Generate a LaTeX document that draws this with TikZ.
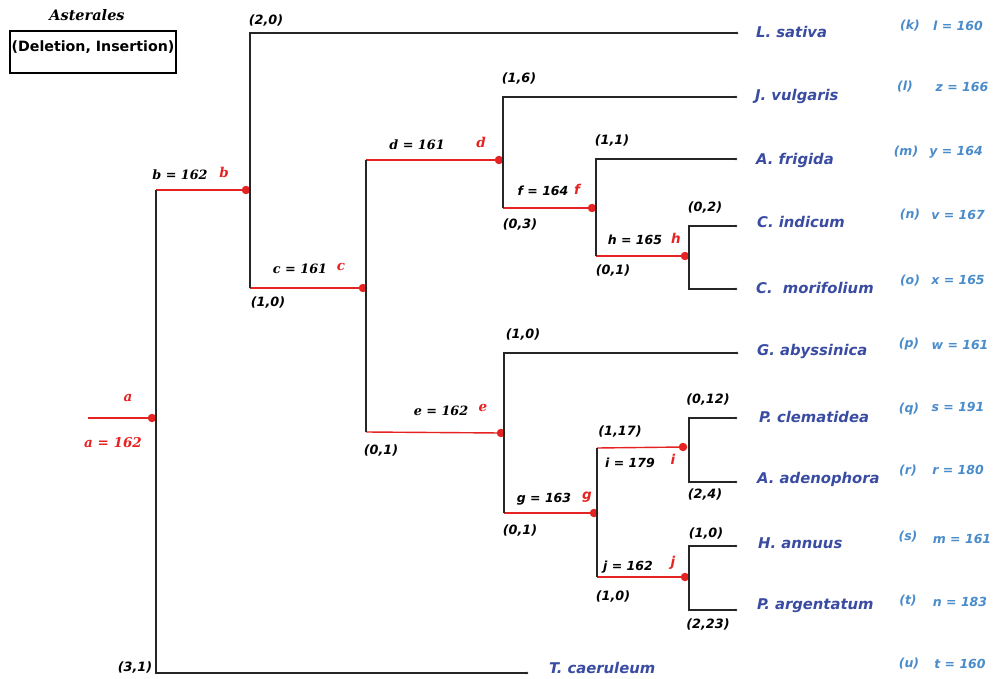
\documentclass[tikz,border=0pt]{standalone}
\usepackage{fontspec}
\setmainfont{DejaVu Sans}
\newfontfamily\lblsans{DejaVu Sans}
\newfontfamily\lblserif{DejaVu Serif}
\definecolor{edgered}{RGB}{230,35,35}
\definecolor{taxblue}{RGB}{58,76,162}
\definecolor{valblue}{RGB}{74,140,202}
\begin{document}
\begin{tikzpicture}[x=1pt,y=-1pt,
  branch/.style={line width=1.4pt,black!85},
  rbranch/.style={line width=1.4pt,edgered},
  joint/.style={circle,fill=edgered,inner sep=0pt,minimum size=8.5pt},
  pair/.style={font=\lblsans\fontsize{12.8}{13}\selectfont\bfseries\itshape,text=black},
  sval/.style={font=\lblserif\fontsize{12.8}{13}\selectfont\bfseries\itshape,text=black},
  fval/.style={font=\lblsans\fontsize{12.5}{13}\selectfont\bfseries\itshape,text=black},
  rtag/.style={font=\lblserif\fontsize{13.5}{14}\selectfont\bfseries\itshape,text=edgered},
  rtags/.style={font=\lblsans\fontsize{13.5}{14}\selectfont\bfseries\itshape,text=edgered},
  taxon/.style={font=\lblsans\fontsize{14.8}{15}\selectfont\bfseries\itshape,text=taxblue},
  leafid/.style={font=\lblsans\fontsize{12.5}{13}\selectfont\bfseries\itshape,text=valblue},
  inner sep=0pt]
\useasboundingbox (0,0) rectangle (993,679);

% legend
\node[font=\lblserif\fontsize{14.5}{15}\selectfont\bfseries\itshape] (title) at (87,15) {Asterales};
\node[draw,line width=1.2pt,minimum width=166pt,minimum height=42pt] (legend) at (93,52) {};
\node[font=\lblsans\fontsize{14.2}{15}\selectfont\bfseries] (legtxt) at (93,47) {(Deletion, Insertion)};

% internal joints
\coordinate (root) at (88,418);
\node[joint] (a) at (152,418) {};
\node[joint] (b) at (246,190) {};
\node[joint] (c) at (363,288) {};
\node[joint] (d) at (499,160) {};
\node[joint] (e) at (501,433) {};
\node[joint] (f) at (592,208) {};
\node[joint] (g) at (594,513) {};
\node[joint] (h) at (685,256) {};
\node[joint] (i) at (683,447) {};
\node[joint] (j) at (685,577) {};

% tip coordinates
\coordinate (tk) at (737,33);
\coordinate (tl) at (736,97);
\coordinate (tm) at (736,159);
\coordinate (tn) at (736,226);
\coordinate (to) at (736,289);
\coordinate (tp) at (737,353);
\coordinate (tq) at (736,418);
\coordinate (tr) at (736,482);
\coordinate (ts) at (736,546);
\coordinate (tt) at (736,610);
\coordinate (tu) at (527,673);

% red internal branches
\draw[rbranch] (root) -- (a.center);
\draw[rbranch] (156,190) -- (b.center);
\draw[rbranch] (250,288) -- (c.center);
\draw[rbranch] (366,160) -- (d.center);
\draw[rbranch] (366,432) -- (e.center);
\draw[rbranch] (503,208) -- (f.center);
\draw[rbranch] (596,256) -- (h.center);
\draw[rbranch] (504,513) -- (g.center);
\draw[rbranch] (597,448) -- (i.center);
\draw[rbranch] (597,577) -- (j.center);

% black verticals and tip branches
\draw[branch] (156,190) -- (156,673) -- (tu);
\draw[branch] (250,288) -- (250,33) -- (tk);
\draw[branch] (366,160) -- (366,432);
\draw[branch] (503,208) -- (503,97) -- (tl);
\draw[branch] (596,256) -- (596,159) -- (tm);
\draw[branch] (tn) -- (689,226) -- (689,289) -- (to);
\draw[branch] (597,577) -- (597,448);
\draw[branch] (504,513) -- (504,353) -- (tp);
\draw[branch] (tq) -- (689,418) -- (689,482) -- (tr);
\draw[branch] (ts) -- (689,546) -- (689,610) -- (tt);
\foreach \t in {tk,tl,tm,tn,to,tp,tq,tr,ts,tt,tu}
  \fill[black!85] (\t) circle (1.3pt);

% node values
\node[rtag] (la) at (128,398) {a};
\node[rtag] (va) at (113,443) {a = 162};
\node[sval] (vb) at (180,175) {b = 162};
\node[rtag] (lb) at (224,172) {b};
\node[sval] (vc) at (300,269) {c = 161};
\node[rtag] (lc) at (341,267) {c};
\node[sval] (vd) at (417,145) {d = 161};
\node[rtag] (ld) at (481,142) {d};
\node[sval] (ve) at (441,411) {e = 162};
\node[rtag] (le) at (483,408) {e};
\node[fval] (vf) at (543,191) {f = 164};
\node[rtags] (lf) at (577,189) {f};
\node[fval] (vh) at (635,240) {h = 165};
\node[rtags] (lh) at (676,238) {h};
\node[fval] (vg) at (544,499) {g = 163};
\node[rtags] (lg) at (587,497) {g};
\node[fval] (vi) at (630,463) {i = 179};
\node[rtags] (li) at (673,459) {i};
\node[fval] (vj) at (628,567) {j = 162};
\node[rtags] (lj) at (673,563) {j};

% (deletion, insertion) pairs
\node[pair] (p1) at (266,21) {(2,0)};
\node[pair] (p2) at (268,303) {(1,0)};
\node[pair] (p3) at (381,451) {(0,1)};
\node[pair] (p4) at (519,79) {(1,6)};
\node[pair] (p5) at (520,225) {(0,3)};
\node[pair] (p6) at (612,141) {(1,1)};
\node[pair] (p7) at (613,271) {(0,1)};
\node[pair] (p8) at (705,208) {(0,2)};
\node[pair] (p9) at (523,335) {(1,0)};
\node[pair] (p10) at (520,531) {(0,1)};
\node[pair] (p11) at (620,432) {(1,17)};
\node[pair] (p12) at (613,597) {(1,0)};
\node[pair] (p13) at (708,400) {(0,12)};
\node[pair] (p14) at (705,495) {(2,4)};
\node[pair] (p15) at (706,534) {(1,0)};
\node[pair] (p16) at (708,625) {(2,23)};
\node[pair] (p17) at (135,668) {(3,1)};

% taxa
\node[taxon,anchor=west] (nk) at (756,32) {L. sativa};
\node[taxon,anchor=west] (nl) at (755,96) {J. vulgaris};
\node[taxon,anchor=west] (nm) at (756,160) {A. frigida};
\node[taxon,anchor=west] (nn) at (757,222) {C. indicum};
\node[taxon,anchor=west] (no) at (756,288) {C.\ \ morifolium};
\node[taxon,anchor=west] (np) at (757,351) {G. abyssinica};
\node[taxon,anchor=west] (nq) at (759,417) {P. clematidea};
\node[taxon,anchor=west] (nr) at (757,479) {A. adenophora};
\node[taxon,anchor=west] (ns) at (758,543) {H. annuus};
\node[taxon,anchor=west] (nt) at (757,606) {P. argentatum};
\node[taxon,anchor=west] (nu) at (549,668) {T. caeruleum};

% leaf identifiers and values
\node[leafid] (ik) at (910,26) {(k)};
\node[leafid] (il) at (905,87) {(l)};
\node[leafid] (im) at (906,152) {(m)};
\node[leafid] (in) at (910,215) {(n)};
\node[leafid] (io) at (910,281) {(o)};
\node[leafid] (ip) at (909,344) {(p)};
\node[leafid] (iq) at (909,409) {(q)};
\node[leafid] (ir) at (908,471) {(r)};
\node[leafid] (is) at (908,537) {(s)};
\node[leafid] (it) at (908,601) {(t)};
\node[leafid] (iu) at (909,664) {(u)};
\node[leafid] (wk) at (958,26) {l = 160};
\node[leafid] (wl) at (962,87) {z = 166};
\node[leafid] (wm) at (956,152) {y = 164};
\node[leafid] (wn) at (958,215) {v = 167};
\node[leafid] (wo) at (958,280) {x = 165};
\node[leafid] (wp) at (960,345) {w = 161};
\node[leafid] (wq) at (958,407) {s = 191};
\node[leafid] (wr) at (958,470) {r = 180};
\node[leafid] (ws) at (962,539) {m = 161};
\node[leafid] (wt) at (960,602) {n = 183};
\node[leafid] (wu) at (960,664) {t = 160};
\end{tikzpicture}
\end{document}
